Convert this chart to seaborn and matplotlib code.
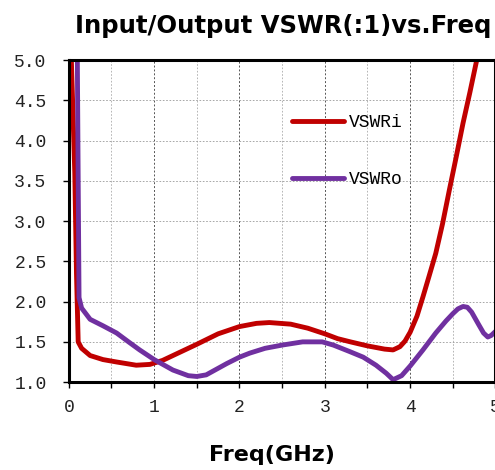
import numpy as np
import pandas as pd
import matplotlib
matplotlib.use("Agg")
import matplotlib.pyplot as plt
import seaborn as sns
from matplotlib.ticker import MultipleLocator, FormatStrFormatter

# VSWR values
freq_i = [0.03, 0.07, 0.09, 0.11, 0.15, 0.25, 0.4, 0.56, 0.79, 0.95, 1.1, 1.22, 1.5, 1.75,
          2.0, 2.2, 2.35, 2.6, 2.8, 3.0, 3.15, 3.3, 3.5, 3.7, 3.8, 3.88, 3.94, 4.0, 4.08, 4.15,
          4.22, 4.3, 4.38, 4.46, 4.54, 4.62, 4.7, 4.78]
vswr_i = [5.0, 3.6, 2.35, 1.50, 1.42, 1.33, 1.28, 1.25, 1.21, 1.22, 1.27, 1.33, 1.47, 1.6,
          1.69, 1.73, 1.74, 1.72, 1.67, 1.60, 1.54, 1.50, 1.45, 1.41, 1.40, 1.44, 1.51, 1.62,
          1.82, 2.06, 2.31, 2.6, 2.97, 3.39, 3.8, 4.22, 4.6, 5.0]

freq_o = [0.10, 0.11, 0.12, 0.15, 0.25, 0.4, 0.56, 0.7, 0.83, 1.0, 1.22, 1.4, 1.5, 1.61,
          1.85, 2.0, 2.12, 2.3, 2.5, 2.74, 2.97, 3.1, 3.29, 3.45, 3.6, 3.72, 3.8, 3.9, 4.0,
          4.15, 4.3, 4.42, 4.5, 4.56, 4.62, 4.67, 4.72, 4.8, 4.86, 4.91, 4.95, 5.0]
vswr_o = [5.0, 3.5, 2.05, 1.92, 1.78, 1.70, 1.61, 1.50, 1.40, 1.28, 1.15, 1.08, 1.07, 1.09,
          1.23, 1.31, 1.36, 1.42, 1.46, 1.50, 1.50, 1.46, 1.38, 1.31, 1.21, 1.11, 1.03, 1.08, 1.20,
          1.40, 1.61, 1.76, 1.85, 1.91, 1.94, 1.93, 1.87, 1.72, 1.61, 1.56, 1.58, 1.63]

x_ticks = [0, 1, 2, 3, 4, 5]
y_ticks = [1.0, 1.5, 2.0, 2.5, 3.0, 3.5, 4.0, 4.5, 5.0]

df = pd.concat([
    pd.DataFrame({"Freq": freq_i, "VSWR": vswr_i, "series": "VSWRi"}),
    pd.DataFrame({"Freq": freq_o, "VSWR": vswr_o, "series": "VSWRo"}),
])

sns.set_style("white")
plt.rcParams["font.family"] = ["DejaVu Sans"]

fig = plt.figure(figsize=(4.95, 4.70), dpi=100)
ax = fig.add_axes([0.139, 0.187, 0.862, 0.685])

sns.lineplot(data=df, x="Freq", y="VSWR", hue="series", sort=False,
             palette={"VSWRi": "#C00000", "VSWRo": "#7030A0"},
             linewidth=3.5, ax=ax, estimator=None, legend=False)

for name, col in [("VSWRi", "#C00000"), ("VSWRo", "#7030A0")]:
    ax.plot([], [], color=col, linewidth=3.5, solid_capstyle="round", label=name)

ax.set_xlim(0, 5)
ax.set_ylim(1.0, 5.0)
ax.set_xticks(x_ticks)
ax.set_yticks(y_ticks)
ax.xaxis.set_minor_locator(MultipleLocator(0.5))
ax.yaxis.set_major_formatter(FormatStrFormatter("%.1f"))

ax.grid(which="major", axis="x", color="#555555", linestyle=(0, (2, 2)), linewidth=0.7)
ax.grid(which="minor", axis="x", color="#aaaaaa", linestyle=(0, (2, 2)), linewidth=0.6)
ax.grid(which="major", axis="y", color="#999999", linestyle=(0, (2, 2)), linewidth=0.6)

for s in ax.spines.values():
    s.set_color("black")
    s.set_linewidth(2.2)

ax.tick_params(axis="both", which="both", direction="out", length=4, width=1, color="black",
               left=True, bottom=True)
for lab in ax.get_xticklabels() + ax.get_yticklabels():
    lab.set_fontfamily("Liberation Mono")
    lab.set_fontsize(13)
    lab.set_color("#222222")
ax.tick_params(axis="x", pad=8)
ax.tick_params(axis="y", pad=12)

ax.set_xlabel("")
ax.set_ylabel("")

leg = ax.legend(loc="upper left", bbox_to_anchor=(0.484, 0.882), frameon=False,
                prop={"family": "Liberation Mono", "size": 13}, handlelength=2.9,
                handletextpad=0.3, labelspacing=2.2)
for t in leg.get_texts():
    t.set_color("black")

fig.text(0.152, 0.945, "Input/Output VSWR(:1)vs.Freq", fontsize=17.5, fontweight="bold",
         ha="left", va="center", color="black")
fig.text(0.549, 0.032, "Freq(GHz)", fontsize=16, fontweight="bold", ha="center", va="center",
         color="black")

fig.savefig("out.png", dpi=100)
